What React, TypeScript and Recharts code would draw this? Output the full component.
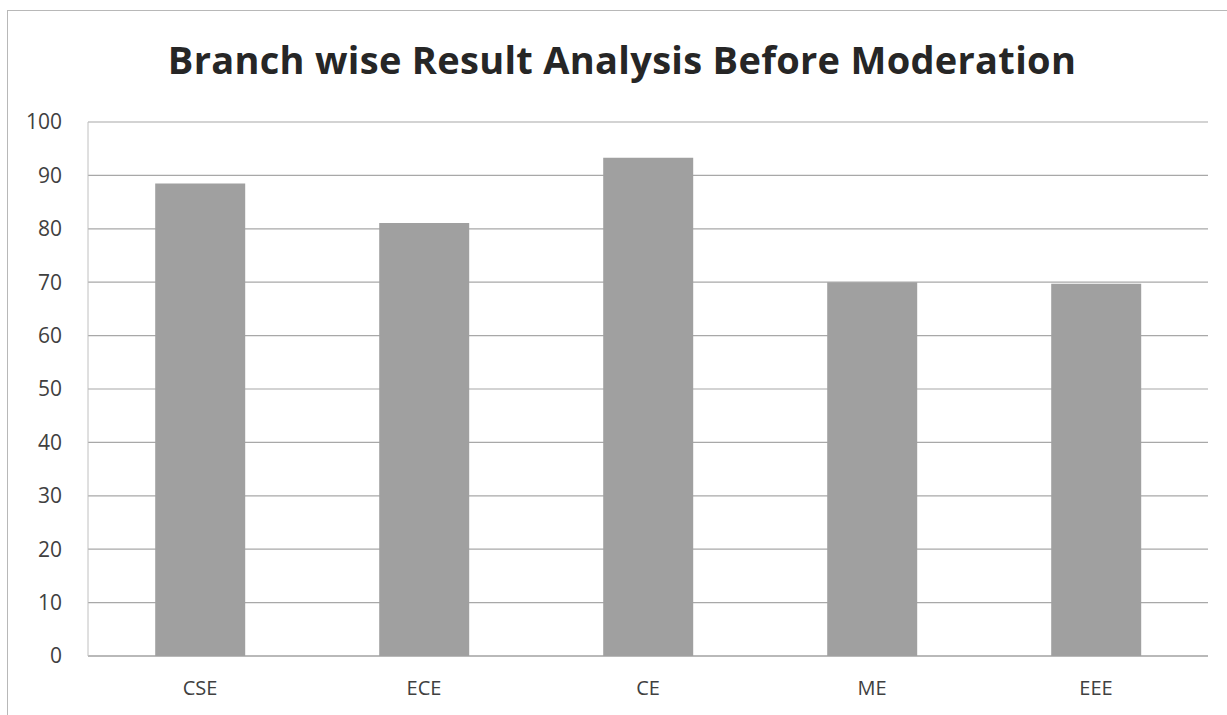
import { BarChart, Bar, XAxis, YAxis, CartesianGrid } from "recharts";

const branches = ["CSE", "ECE", "CE", "ME", "EEE"];
const resultPercent = [88.5, 81.1, 93.3, 70.0, 69.7];
const yTicks = [0, 10, 20, 30, 40, 50, 60, 70, 80, 90, 100];

const data = branches.map((branch, i) => ({ branch, value: resultPercent[i] }));

export default function App() {
    return (
        <div
            style={{
                position: "absolute",
                left: 0,
                top: 0,
                width: 1227,
                height: 715,
                background: "#ffffff",
                overflow: "hidden",
                fontFamily: "'Open Sans', sans-serif",
            }}
        >
            {/* frame */}
            <div
                style={{
                    position: "absolute",
                    left: 7,
                    top: 10,
                    width: 1240,
                    height: 760,
                    border: "1px solid #b8b8b8",
                }}
            />

            {/* Title */}
            <div
                style={{
                    position: "absolute",
                    left: 0,
                    width: 1244,
                    top: 33,
                    textAlign: "center",
                    fontSize: 38,
                    fontWeight: 700,
                    color: "#262626",
                    letterSpacing: 0.3,
                }}
            >
                Branch wise Result Analysis Before Moderation
            </div>

            <div style={{ position: "absolute", left: 0, top: 0 }}>
                <BarChart
                    width={1227}
                    height={715}
                    data={data}
                    margin={{ top: 122, right: 19, bottom: 29, left: 28 }}
                    barCategoryGap="30%"
                >
                    <CartesianGrid
                        vertical={false}
                        stroke="#a8a8a8"
                        strokeWidth={1.2}
                    />
                    <XAxis
                        dataKey="branch"
                        height={30}
                        axisLine={{ stroke: "#a0a0a0", strokeWidth: 1.2 }}
                        tickLine={false}
                        tickSize={0}
                        tickMargin={25}
                        tick={{ fontSize: 20, fill: "#404040" }}
                    />
                    <YAxis
                        width={60}
                        domain={[0, 100]}
                        ticks={yTicks}
                        interval={0}
                        axisLine={{ stroke: "#c0c0c0", strokeWidth: 1 }}
                        tickLine={false}
                        tickSize={0}
                        tickMargin={26}
                        tick={{ fontSize: 21, fill: "#404040" }}
                    />
                    <Bar
                        dataKey="value"
                        fill="#a0a0a0"
                        isAnimationActive={false}
                    />
                </BarChart>
            </div>
        </div>
    );
}
